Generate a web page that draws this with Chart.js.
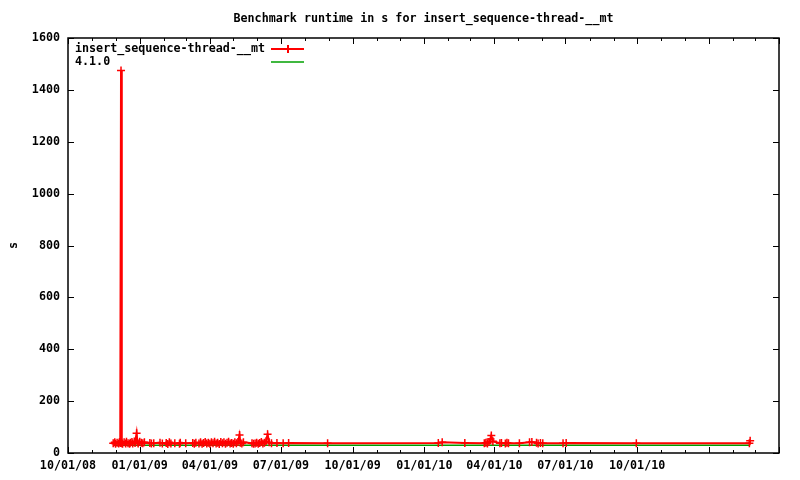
<!DOCTYPE html>
<html>
<head>
<meta charset="utf-8">
<script src="https://cdn.jsdelivr.net/npm/chart.js@4/dist/chart.umd.min.js"></script>
<style>
  body { margin: 0; background: #fff; }
  #grafico { display: block; }
</style>
</head>
<body>
<canvas id="grafico" width="800" height="480"></canvas>
<script>
// ---- dados do gráfico

const chartTitle = 'Benchmark runtime in s for insert_sequence-thread-__mt';
const seriesName = 'insert_sequence-thread-__mt';
const refName = '4.1.0';
const yTitle = 's';

// datas das execuções e tempo em segundos
const runDates = [
  '2008-11-28', '2008-11-30', '2008-12-01', '2008-12-03', '2008-12-05', '2008-12-06', '2008-12-07', '2008-12-08',
  '2008-12-09', '2008-12-10', '2008-12-12', '2008-12-14', '2008-12-15', '2008-12-17', '2008-12-19', '2008-12-20',
  '2008-12-22', '2008-12-23', '2008-12-25', '2008-12-26', '2008-12-28', '2008-12-29', '2008-12-30', '2009-01-01',
  '2009-01-03', '2009-01-05', '2009-01-07', '2009-01-14', '2009-01-16', '2009-01-19', '2009-01-27', '2009-01-30',
  '2009-02-04', '2009-02-06', '2009-02-08', '2009-02-10', '2009-02-15', '2009-02-21', '2009-02-22', '2009-03-01',
  '2009-03-10', '2009-03-12', '2009-03-14', '2009-03-18', '2009-03-20', '2009-03-22', '2009-03-24', '2009-03-26',
  '2009-03-28', '2009-03-30', '2009-04-01', '2009-04-03', '2009-04-05', '2009-04-07', '2009-04-09', '2009-04-11',
  '2009-04-13', '2009-04-15', '2009-04-17', '2009-04-19', '2009-04-21', '2009-04-23', '2009-04-25', '2009-04-27',
  '2009-04-29', '2009-05-01', '2009-05-03', '2009-05-05', '2009-05-07', '2009-05-09', '2009-05-10', '2009-05-12',
  '2009-05-14', '2009-05-25', '2009-05-27', '2009-05-29', '2009-05-31', '2009-06-02', '2009-06-04', '2009-06-06',
  '2009-06-08', '2009-06-10', '2009-06-12', '2009-06-14', '2009-06-16', '2009-06-19', '2009-06-26', '2009-07-04',
  '2009-07-11', '2009-08-30', '2010-01-19', '2010-01-24', '2010-02-22', '2010-03-19', '2010-03-21', '2010-03-23',
  '2010-03-25', '2010-03-27', '2010-03-28', '2010-03-30', '2010-04-08', '2010-04-10', '2010-04-15', '2010-04-17',
  '2010-04-19', '2010-05-03', '2010-05-16', '2010-05-19', '2010-05-25', '2010-05-27', '2010-05-30', '2010-06-02',
  '2010-06-28', '2010-07-02', '2010-09-30', '2011-02-22', '2011-02-23'
];
const runSeconds = [
  38, 41, 36, 40, 37, 42, 39, 1475,
  38, 36, 41, 37, 43, 38, 36, 40,
  42, 37, 44, 39, 76, 41, 37, 43,
  40, 38, 41, 39, 37, 38, 40, 37,
  39, 35, 41, 37, 38, 36, 40, 38,
  39, 36, 40, 37, 41, 36, 39, 42,
  37, 40, 36, 41, 38, 43, 37, 40,
  35, 42, 38, 41, 36, 40, 43, 37,
  39, 36, 41, 38, 42, 69, 40, 37,
  41, 38, 36, 37, 40, 36, 39, 42,
  37, 40, 45, 72, 41, 38, 39, 38,
  39, 38, 39, 41, 39, 38, 40, 37,
  42, 54, 67, 45, 38, 39, 37, 40,
  38, 38, 41, 42, 40, 37, 39, 38,
  38, 39, 38, 38, 47
];

// linha de referência (versão 4.1.0)
const refDates = ['2008-11-28', '2011-02-23'];
const refSeconds = [30, 30];

// eixo x: trimestres
const xTickDates = ['2008-10-01', '2009-01-01', '2009-04-01', '2009-07-01', '2009-10-01',
  '2010-01-01', '2010-04-01', '2010-07-01', '2010-10-01', '2011-01-01', '2011-04-01'];
const xTickLabels = ['10/01/08', '01/01/09', '04/01/09', '07/01/09', '10/01/09',
  '01/01/10', '04/01/10', '07/01/10', '10/01/10', '', ''];
const xMinDate = '2008-10-01';
const xMaxDate = '2011-04-01';

const yMin = 0;
const yMax = 1600;
const yStep = 200;


// ---- montar pontos

const toTs = d => Date.parse(d);
const runPoints = runDates.map((d, i) => ({ x: toTs(d), y: runSeconds[i] }));
const refPoints = refDates.map((d, i) => ({ x: toTs(d), y: refSeconds[i] }));
const xTickValues = xTickDates.map(toTs);

// marcas mensais (menores) entre os trimestres
function getMarcasMensais() {
  const marcas = [];
  const ini = new Date(toTs(xMinDate));
  const fim = toTs(xMaxDate);
  let ano = ini.getUTCFullYear(), mes = ini.getUTCMonth();
  while (Date.UTC(ano, mes, 1) <= fim) {
    marcas.push(Date.UTC(ano, mes, 1));
    mes++;
    if (mes > 11) { mes = 0; ano++; }
  }
  return marcas;
}

const fonte = { family: '"DejaVu Sans Mono", "Liberation Mono", monospace', size: 11.7, weight: 'bold' };
const fonteCss = 'bold 11.7px "DejaVu Sans Mono", "Liberation Mono", monospace';


// ---- plugin: moldura e marcas no estilo gnuplot

const molduraPlugin = {
  id: 'moldura',
  beforeDatasetsDraw(chart) {
    const { ctx, chartArea: a, scales } = chart;
    const sx = scales.x, sy = scales.y;
    ctx.save();
    ctx.strokeStyle = '#000';
    ctx.lineWidth = 1.5;
    ctx.strokeRect(a.left, a.top, a.right - a.left, a.bottom - a.top);

    ctx.lineWidth = 1;
    ctx.beginPath();
    // marcas y (esquerda e direita)
    for (let v = yMin; v <= yMax; v += yStep) {
      const py = Math.round(sy.getPixelForValue(v)) + 0.5;
      ctx.moveTo(a.left, py); ctx.lineTo(a.left + 6, py);
      ctx.moveTo(a.right, py); ctx.lineTo(a.right - 6, py);
    }
    // marcas x maiores
    xTickValues.forEach(v => {
      const px = Math.round(sx.getPixelForValue(v)) + 0.5;
      ctx.moveTo(px, a.bottom); ctx.lineTo(px, a.bottom - 6);
      ctx.moveTo(px, a.top); ctx.lineTo(px, a.top + 6);
    });
    // marcas x menores
    getMarcasMensais().forEach(v => {
      if (xTickValues.includes(v)) return;
      const px = Math.round(sx.getPixelForValue(v)) + 0.5;
      ctx.moveTo(px, a.bottom); ctx.lineTo(px, a.bottom - 3);
      ctx.moveTo(px, a.top); ctx.lineTo(px, a.top + 3);
    });
    ctx.stroke();
    ctx.restore();
  },
  afterDraw(chart) {
    const { ctx, chartArea: a } = chart;
    ctx.save();
    ctx.font = fonteCss;
    ctx.fillStyle = '#000';
    ctx.textBaseline = 'middle';

    // título
    ctx.textAlign = 'center';
    ctx.fillText(chartTitle, (a.left + a.right) / 2, 19);

    // legenda (texto à esquerda, amostra à direita)
    ctx.textAlign = 'left';
    const itens = chart.data.datasets;
    itens.forEach((ds, i) => {
      const y = 49 + i * 13;
      ctx.fillStyle = '#000';
      ctx.fillText(ds.label, a.left + 7, y);
      ctx.strokeStyle = ds.borderColor;
      ctx.lineWidth = ds.borderWidth;
      ctx.beginPath();
      ctx.moveTo(271, y); ctx.lineTo(304, y);
      if (ds.pointRadius > 0) {
        ctx.moveTo(288, y - 4); ctx.lineTo(288, y + 4);
      }
      ctx.stroke();
    });
    ctx.restore();
  }
};


// ---- gráfico

const ctx = document.getElementById('grafico').getContext('2d');
let grafico = new Chart(ctx, {
  type: 'line',
  data: {
    datasets: [{
      label: seriesName,
      data: runPoints,
      borderColor: '#ff0000',
      backgroundColor: '#ff0000',
      borderWidth: 2,
      pointStyle: 'cross',
      pointRadius: 4,
      pointBorderWidth: 1.5,
      pointBorderColor: '#ff0000',
      tension: 0,
      fill: false
    }, {
      label: refName,
      data: refPoints,
      borderColor: '#00a000',
      backgroundColor: '#00a000',
      borderWidth: 1.5,
      pointRadius: 0,
      tension: 0,
      fill: false
    }]
  },
  options: {
    responsive: false,
    animation: false,
    devicePixelRatio: 1,
    layout: { padding: { top: 38, right: 21, left: 0, bottom: 0 } },
    plugins: {
      legend: { display: false },
      title: { display: false },
      tooltip: { enabled: false }
    },
    scales: {
      x: {
        type: 'linear',
        min: toTs(xMinDate),
        max: toTs(xMaxDate),
        grid: { display: false, drawTicks: false },
        border: { display: false },
        afterBuildTicks: scale => { scale.ticks = xTickValues.map(v => ({ value: v })); },
        afterFit: scale => { scale.height = 27; },
        ticks: {
          autoSkip: false,
          maxRotation: 0,
          padding: 6,
          color: '#000',
          font: fonte,
          callback: v => xTickLabels[xTickValues.indexOf(v)] || ''
        }
      },
      y: {
        min: yMin,
        max: yMax,
        grid: { display: false, drawTicks: false },
        border: { display: false },
        afterFit: scale => { scale.width = 68; },
        ticks: { stepSize: yStep, padding: 8, color: '#000', font: fonte, callback: v => String(v) },
        title: { display: true, text: yTitle, color: '#000', font: fonte, padding: { top: 7, bottom: 0 } }
      }
    }
  },
  plugins: [molduraPlugin]
});
</script>
</body>
</html>
